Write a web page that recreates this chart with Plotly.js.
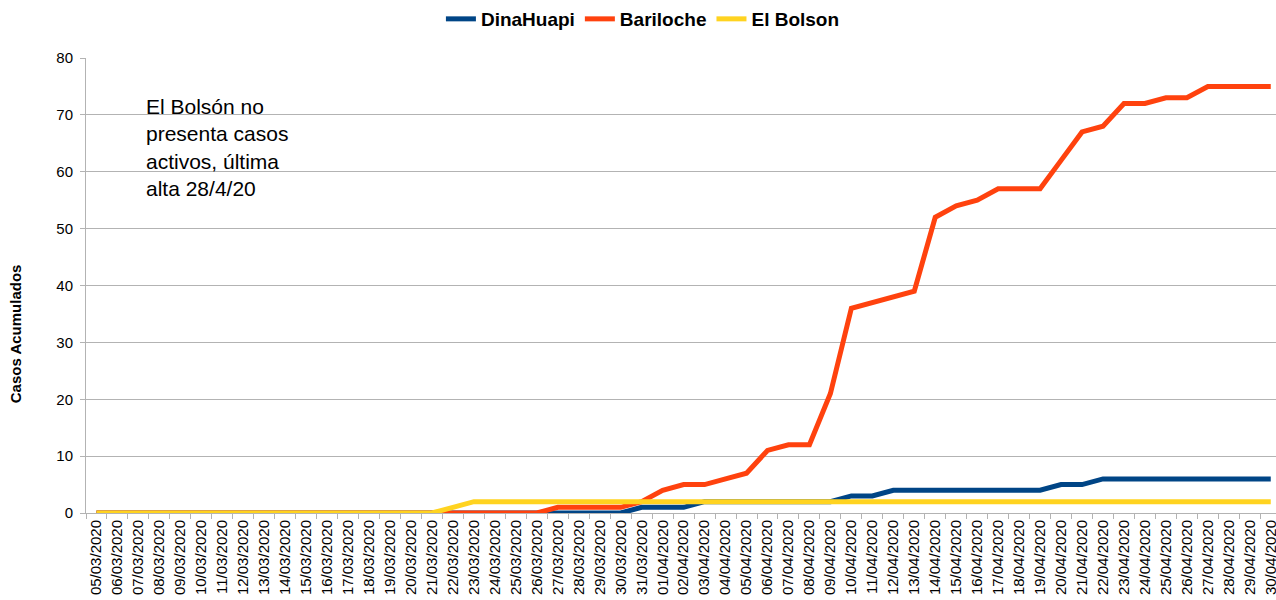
<!DOCTYPE html>
<html>
<head>
<meta charset="utf-8">
<script src="https://cdn.plot.ly/plotly-3.0.1.min.js"></script>
<style>html,body{margin:0;padding:0;background:#fff;}#chart{width:1276px;height:600px;}</style>
</head>
<body>
<div id="chart"></div>
<script>
const dates = [
  "05/03/2020","06/03/2020","07/03/2020","08/03/2020","09/03/2020","10/03/2020","11/03/2020",
  "12/03/2020","13/03/2020","14/03/2020","15/03/2020","16/03/2020","17/03/2020","18/03/2020",
  "19/03/2020","20/03/2020","21/03/2020","22/03/2020","23/03/2020","24/03/2020","25/03/2020",
  "26/03/2020","27/03/2020","28/03/2020","29/03/2020","30/03/2020","31/03/2020",
  "01/04/2020","02/04/2020","03/04/2020","04/04/2020","05/04/2020","06/04/2020","07/04/2020",
  "08/04/2020","09/04/2020","10/04/2020","11/04/2020","12/04/2020","13/04/2020","14/04/2020",
  "15/04/2020","16/04/2020","17/04/2020","18/04/2020","19/04/2020","20/04/2020","21/04/2020",
  "22/04/2020","23/04/2020","24/04/2020","25/04/2020","26/04/2020","27/04/2020","28/04/2020",
  "29/04/2020","30/04/2020"
];
const dinaHuapi = [
  0,0,0,0,0,0,0, 0,0,0,0,0,0,0, 0,0,0,0,0,0,0, 0,0,0,0,0,1,
  1,1,2,2,2,2,2, 2,2,3,3,4,4,4, 4,4,4,4,4,5,5, 6,6,6,6,6,6,6, 6,6
];
const bariloche = [
  0,0,0,0,0,0,0, 0,0,0,0,0,0,0, 0,0,0,0,0,0,0, 0,1,1,1,1,2,
  4,5,5,6,7,11,12, 12,21,36,37,38,39,52, 54,55,57,57,57,62,67, 68,72,72,73,73,75,75, 75,75
];
const elBolson = [
  0,0,0,0,0,0,0, 0,0,0,0,0,0,0, 0,0,0,1,2,2,2, 2,2,2,2,2,2,
  2,2,2,2,2,2,2, 2,2,2,2,2,2,2, 2,2,2,2,2,2,2, 2,2,2,2,2,2,2, 2,2
];
const seriesNames = ["DinaHuapi", "Bariloche", "El Bolson"];
const seriesColors = ["#004586", "#ff420e", "#ffd320"];
const seriesValues = [dinaHuapi, bariloche, elBolson];
const yTicks = [0,10,20,30,40,50,60,70,80];
const noteText = "El Bolsón no<br>presenta casos<br>activos, última<br>alta 28/4/20";
const yTitle = "Casos Acumulados";

const font = "'Liberation Sans', Arial, sans-serif";
const traces = seriesValues.map((vals, i) => ({
  type: "scatter", mode: "lines",
  x: dates, y: vals, name: seriesNames[i],
  line: {color: seriesColors[i], width: 5, shape: "linear"},
  hoverinfo: "x+y+name"
}));

const layout = {
  width: 1276, height: 600,
  margin: {l: 86, r: 0, t: 57, b: 87, pad: 0},
  paper_bgcolor: "#ffffff", plot_bgcolor: "#ffffff",
  font: {family: font, color: "#000000", size: 15},
  showlegend: true,
  legend: {
    orientation: "h", x: 0.468, xanchor: "center", y: 1.085, yanchor: "middle",
    font: {family: font, size: 19, color: "#000000", weight: "bold"},
    traceorder: "normal", itemwidth: 30
  },
  xaxis: {
    type: "category", range: [-0.5, 56.25],
    tickmode: "array", tickvals: dates, ticktext: dates,
    tickangle: -90, tickson: "boundaries",
    ticks: "outside", ticklen: 5, tickcolor: "#b3b3b3", tickwidth: 1,
    showline: true, linecolor: "#b3b3b3", linewidth: 1,
    showgrid: false, zeroline: false,
    tickfont: {family: font, size: 15, color: "#000000"},
    fixedrange: true
  },
  yaxis: {
    range: [0, 80], tickmode: "array", tickvals: yTicks,
    ticks: "outside", ticklen: 5, tickcolor: "#b3b3b3", tickwidth: 1,
    showline: true, linecolor: "#b3b3b3", linewidth: 1,
    showgrid: true, gridcolor: "#b3b3b3", gridwidth: 1, zeroline: false,
    tickfont: {family: font, size: 15, color: "#000000"},
    ticklabelstandoff: 4,
    fixedrange: true
  },
  annotations: [
    {
      xref: "paper", yref: "paper", x: 0.0487, y: 0.922,
      xanchor: "left", yanchor: "top", align: "left",
      text: noteText, showarrow: false,
      font: {family: font, size: 21, color: "#000000"}
    },
    {
      xref: "paper", yref: "paper", x: -0.0597, y: 0.395,
      xanchor: "center", yanchor: "middle", textangle: -90,
      text: "<b>" + yTitle + "</b>", showarrow: false,
      font: {family: font, size: 15, color: "#000000"}
    }
  ]
};

Plotly.newPlot("chart", traces, layout, {displayModeBar: false, staticPlot: true});
</script>
</body>
</html>
